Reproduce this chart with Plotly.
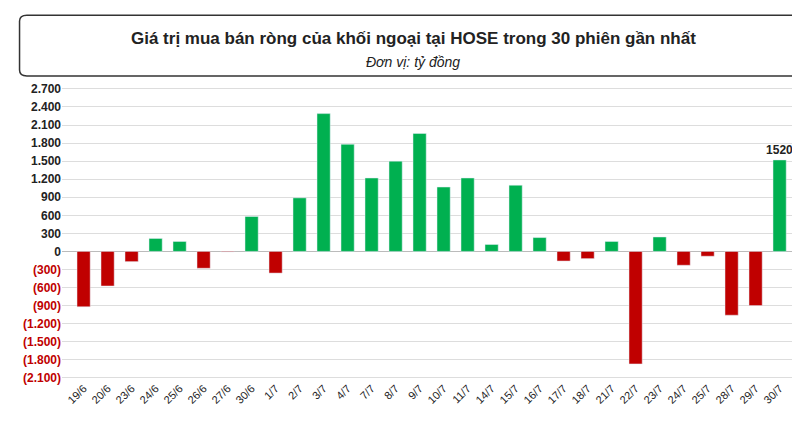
import plotly.graph_objects as go

dates = ["19/6","20/6","23/6","24/6","25/6","26/6","27/6","30/6","1/7","2/7","3/7","4/7","7/7","8/7","9/7",
         "10/7","11/7","14/7","15/7","16/7","17/7","18/7","21/7","22/7","23/7","24/7","25/7","28/7","29/7","30/7"]
values = [-920,-575,-170,215,165,-280,-10,580,-360,890,2290,1780,1220,1500,1960,
          1070,1220,115,1100,230,-160,-120,165,-1870,240,-230,-80,-1060,-900,1520]
tick_vals = [2700,2400,2100,1800,1500,1200,900,600,300,0,-300,-600,-900,-1200,-1500,-1800,-2100]

def fmt(v):
    s = f"{abs(v):,}".replace(",", ".")
    return f"<b>{s}</b>" if v >= 0 else f"<b><span style='color:#c00000'>({s})</span></b>"

colors = ["#00b050" if v >= 0 else "#c00000" for v in values]
text = [""] * (len(values) - 1) + [f"<b>{values[-1]}</b>"]

fig = go.Figure(go.Bar(x=dates, y=values, marker_color=colors, width=0.55,
                       text=text, textposition="outside", cliponaxis=False, constraintext="none",
                       textfont=dict(family="Arial", size=12, color="#222")))
fig.update_layout(
    width=800, height=429, margin=dict(l=54, r=14, t=74, b=58),
    paper_bgcolor="white", plot_bgcolor="white", showlegend=False,
    font=dict(family="Arial", color="#222"),
    xaxis=dict(tickangle=-45, tickfont=dict(size=11, color="#222"), showgrid=False,
               showline=False, ticks="", range=[-0.9, 29.6]),
    yaxis=dict(range=[-2120, 2815], tickvals=tick_vals, ticktext=[fmt(v) for v in tick_vals],
               tickfont=dict(size=12, family="Arial", color="#222"),
               gridcolor="#dddddd", zeroline=True, zerolinecolor="#bbbbbb", zerolinewidth=1),
    shapes=[dict(type="path", xref="paper", yref="paper",
                 path="M -0.058 1.205 L -0.058 1.04 Q -0.058 1.02 -0.048 1.02 L 1.003 1.02 Q 1.013 1.02 1.013 1.04 L 1.013 1.205 Q 1.013 1.225 1.003 1.225 L -0.048 1.225 Q -0.058 1.225 -0.058 1.205 Z",
                 line=dict(color="#333", width=1.5))],
    annotations=[
        dict(text="<b>Giá trị mua bán ròng của khối ngoại tại HOSE trong 30 phiên gần nhất</b>",
             xref="paper", yref="paper", x=0.48, y=1.185, showarrow=False,
             font=dict(size=17, family="Arial", color="#222")),
        dict(text="<i>Đơn vị: tỷ đồng</i>", xref="paper", yref="paper", x=0.48, y=1.10,
             showarrow=False, font=dict(size=14, family="Arial", color="#222")),
    ],
)
fig.write_html("out.html")
